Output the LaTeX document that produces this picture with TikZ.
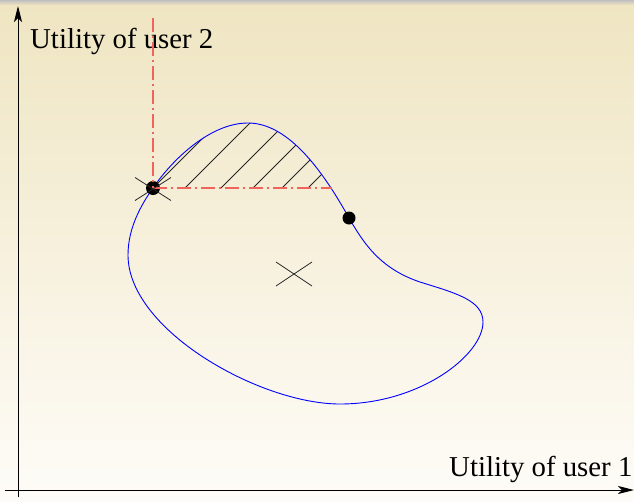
\documentclass[tikz,border=0pt]{standalone}
\usepackage{fontspec}
\setmainfont{Liberation Serif}
\usetikzlibrary{arrows.meta,calc}
\definecolor{bgtop}{HTML}{EFE5C2}
\definecolor{bgbot}{HTML}{FEFCF8}
\definecolor{redline}{HTML}{F0645C}
\tikzset{
  axis/.style={line width=1pt, draw=black, -{Stealth[length=16pt,width=8pt,inset=4pt]}},
  region/.style={draw=blue, line width=0.9pt},
  hatchline/.style={draw=black!85, line width=0.8pt},
  guide/.style={draw=redline, line width=1.4pt, dash pattern=on 14pt off 4pt on 2pt off 4pt},
  dot/.style={circle, fill=black, inner sep=0pt},
  crossline/.style={draw=black!85, line width=0.8pt},
  lbl/.style={inner sep=0pt, anchor=base west, font=\fontsize{28.8pt}{30pt}\selectfont}
}
\newcommand{\regionpath}{(153,188) .. controls (172,160) and (210,123) .. (248,123)
  .. controls (290,123) and (325,175) .. (349,218)
  .. controls (362,240) and (378,268) .. (420,282)
  .. controls (455,293) and (483,300) .. (483,322)
  .. controls (483,355) and (420,404) .. (340,404)
  .. controls (260,404) and (128,330) .. (128,255)
  .. controls (128,228) and (141,205) .. (153,188) -- cycle}
\begin{document}
\begin{tikzpicture}[x=1pt,y=-1pt]
\useasboundingbox (0,0) rectangle (634,501);
\shade[top color=bgtop, bottom color=bgbot] (0,0) rectangle (634,501);
\shade[top color=black!25, bottom color=bgtop] (0,0) rectangle (634,5);

% axes
\coordinate (ybot) at (18,497);
\coordinate (ytop) at (18,6);
\coordinate (xleft) at (5,490);
\coordinate (xright) at (634,490);
\draw[axis] (ybot) -- (ytop);
\draw[axis] (xleft) -- (xright);

\node[lbl] (lab2) at (30,48) {Utility of user 2};
\node[lbl] (lab1) at (449,476) {Utility of user 1};

% hatching
\begin{scope}
\clip \regionpath;
\foreach \x in {153,185,221,253,282,308} \draw[hatchline] (\x,188) -- ++(120,-120);
\end{scope}

% region boundary
\draw[region] \regionpath;

% guide lines
\coordinate (vtop) at (153,18);
\coordinate (hend) at (332,188);
\node[dot, minimum size=14pt] (p1) at (153,188) {};
\draw[guide] (vtop) -- (p1.center);
\draw[guide] (p1.center) -- (hend);

\node[dot, minimum size=13pt] (p2) at (349,218) {};

% crosses
\coordinate (c1) at (153,189);
\draw[crossline] ($(c1)+(-18,-11.5)$) -- ($(c1)+(18,11.5)$);
\draw[crossline] ($(c1)+(-18,11.5)$) -- ($(c1)+(18,-11.5)$);
\coordinate (c2) at (294,274);
\draw[crossline] ($(c2)+(-18,-12)$) -- ($(c2)+(18,12)$);
\draw[crossline] ($(c2)+(-18,12)$) -- ($(c2)+(18,-12)$);
\end{tikzpicture}
\end{document}
